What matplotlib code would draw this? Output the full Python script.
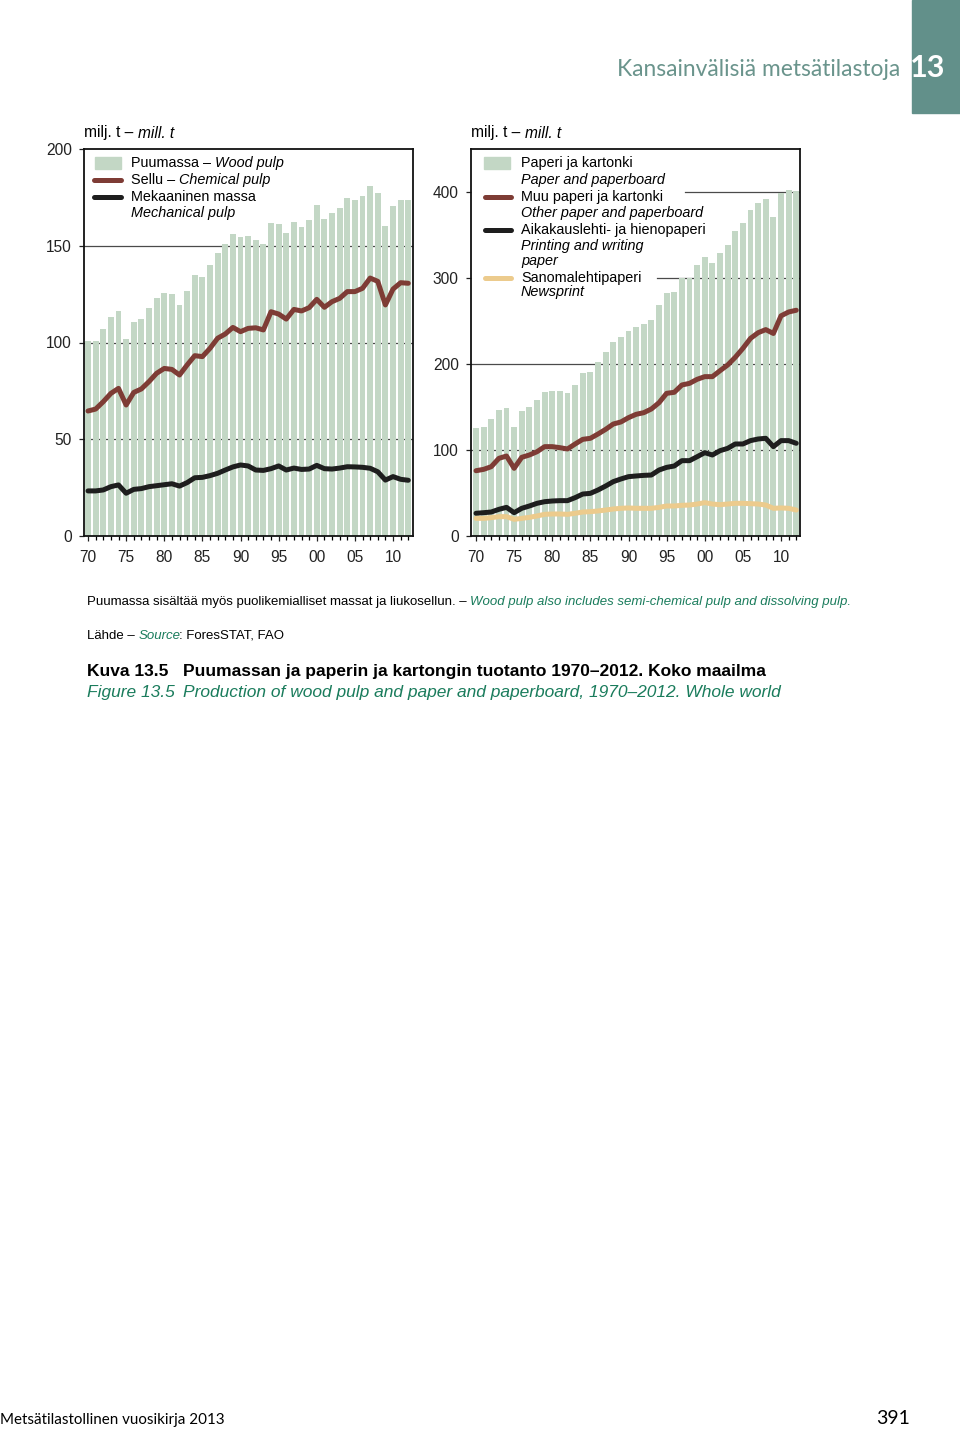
import numpy as np
import matplotlib.pyplot as plt
from matplotlib.patches import Rectangle
from matplotlib.lines import Line2D

# vuodet 1970-2012
years = np.arange(1970, 2013)
xtick_years = list(range(1970, 2011, 5))
xtick_labels = ['70', '75', '80', '85', '90', '95', '00', '05', '10']

# vasen: puumassa (pylvaat), sellu ja mekaaninen massa, milj. t
wood_pulp = [101.0, 101.0, 107.0, 113.0, 116.3, 101.6, 110.8, 112.1, 117.7, 122.8,
             125.4, 125.1, 119.4, 126.6, 134.9, 134.0, 139.9, 146.4, 151.1, 155.9,
             154.7, 155.0, 152.8, 150.7, 161.6, 161.4, 156.4, 162.4, 159.7, 163.3,
             170.9, 164.0, 167.1, 169.7, 174.5, 173.6, 175.5, 180.9, 177.3, 160.2,
             170.5, 173.6, 173.6]
chemical_pulp = [64.6, 65.6, 69.4, 73.7, 76.3, 67.7, 74.2, 76.0, 79.8, 84.1,
                 86.6, 86.1, 83.2, 88.4, 93.2, 92.7, 97.0, 102.2, 104.4, 107.8,
                 105.6, 107.3, 107.6, 106.5, 115.9, 114.7, 112.1, 117.1, 116.3, 118.0,
                 122.3, 118.2, 121.1, 122.8, 126.3, 126.3, 128.0, 133.3, 131.6, 119.4,
                 127.6, 130.9, 130.6]
mechanical_pulp = [23.3, 23.3, 23.8, 25.5, 26.4, 22.1, 24.1, 24.5, 25.5, 26.0,
                   26.5, 27.0, 25.8, 27.6, 30.1, 30.3, 31.2, 32.4, 34.1, 35.7,
                   36.7, 36.2, 34.1, 33.9, 34.8, 36.2, 34.1, 35.1, 34.4, 34.6,
                   36.5, 34.8, 34.6, 35.1, 35.8, 35.7, 35.5, 35.0, 33.2, 28.9,
                   30.7, 29.3, 28.8]

# oikea: paperi ja kartonki (pylvaat) ja lajit, milj. t
paper_board = [125.2, 127.1, 136.0, 146.5, 148.5, 126.4, 145.3, 149.6, 158.1, 167.1,
               168.6, 168.2, 165.9, 175.6, 189.2, 191.1, 201.9, 213.6, 225.2, 231.8,
               238.8, 243.4, 246.5, 251.2, 268.2, 282.2, 284.1, 299.6, 299.6, 314.7,
               324.0, 317.8, 328.7, 338.4, 355.0, 363.6, 379.1, 387.6, 391.5, 371.3,
               399.2, 402.3, 400.8]
other_paper = [75.9, 77.5, 80.6, 90.3, 93.0, 78.7, 91.5, 94.2, 98.0, 103.9,
               103.9, 102.7, 101.2, 107.0, 112.4, 113.6, 118.6, 124.0, 130.2, 132.6,
               137.6, 141.5, 143.4, 147.7, 155.0, 165.9, 167.1, 175.6, 177.5, 182.2,
               185.3, 185.3, 192.2, 198.8, 207.8, 218.2, 229.8, 236.4, 240.0, 235.5,
               256.0, 260.5, 262.5]
printing_writing = [26.4, 27.1, 27.9, 31.0, 33.3, 27.1, 32.2, 34.9, 38.0, 39.9,
                    40.7, 41.1, 41.1, 44.6, 48.8, 49.6, 53.5, 58.1, 63.2, 66.3,
                    69.0, 69.8, 70.5, 70.9, 76.7, 79.8, 81.4, 87.6, 87.6, 92.2,
                    96.9, 94.2, 99.2, 101.9, 107.0, 107.0, 110.9, 112.8, 113.6, 103.9,
                    110.9, 110.9, 107.8]
newsprint = [20.5, 20.5, 21.3, 22.5, 22.5, 19.4, 20.5, 21.7, 23.3, 25.2,
             25.6, 25.6, 25.2, 26.4, 27.9, 28.3, 29.1, 30.2, 31.4, 32.2,
             32.6, 32.2, 32.2, 32.2, 33.3, 34.9, 34.9, 35.7, 36.0, 37.2,
             38.8, 37.2, 36.4, 37.2, 38.0, 38.0, 37.6, 37.2, 36.0, 32.2,
             32.6, 32.2, 30.2]

BAR = '#c3d7c5'
BROWN = '#7e3c35'
BLACK = '#1e1e1e'
TAN = '#eccb8d'
GREEN = '#1a7c5c'
TEAL = '#62908a'

plt.rcParams['font.family'] = ['Liberation Sans', 'DejaVu Sans']

W, H = 960, 1433
fig = plt.figure(figsize=(W / 100, H / 100), dpi=100)


def fx(x):
    return x / W


def fy(y):
    return 1 - y / H


ax1 = fig.add_axes([fx(84), fy(536), fx(329), 387 / H])
ax2 = fig.add_axes([fx(471), fy(536), fx(329), 387 / H])

line_kw = dict(lw=3.6, solid_joinstyle='round', solid_capstyle='round', zorder=3)

ax1.bar(years, wood_pulp, width=0.76, color=BAR, zorder=1)
ax1.plot(years, chemical_pulp, color=BROWN, **line_kw)
ax1.plot(years, mechanical_pulp, color=BLACK, **line_kw)

ax2.bar(years, paper_board, width=0.76, color=BAR, zorder=1)
ax2.plot(years, other_paper, color=BROWN, **line_kw)
ax2.plot(years, printing_writing, color=BLACK, **line_kw)
ax2.plot(years, newsprint, color=TAN, **line_kw)


def style(ax, ymax, ystep, xlim, grid):
    ax.set_xlim(*xlim)
    ax.set_ylim(0, ymax)
    ax.set_yticks(np.arange(0, ymax + 1, ystep))
    ax.set_xticks(xtick_years)
    ax.set_xticklabels(xtick_labels)
    ax.set_xticks(years, minor=True)
    ax.tick_params(axis='both', direction='out', length=3.8, width=0.9,
                   labelsize=11.2, pad=5, colors='#222222')
    ax.tick_params(axis='x', which='minor', direction='out', length=3, width=0.9)
    ax.tick_params(axis='x', pad=6)
    for s in ax.spines.values():
        s.set_linewidth(1.3)
        s.set_color('#111111')
    for v, start in grid:
        ax.axhline(v, xmin=start, color='#4a4a4a', lw=0.9, zorder=0.5)


style(ax1, 200, 50, (1969.475, 2012.62), [(50, 0), (100, 0), (150, 0)])
style(ax2, 450, 100, (1969.344, 2012.49),
      [(100, 0), (200, 0), (300, (657 - 471) / 329), (400, (685 - 471) / 329)])


def rich(x, y, parts, size, va='center', **kw):
    s0, k0 = parts[0]
    t = fig.text(fx(x), fy(y), s0, fontsize=size, va=va, ha='left', **k0, **kw)
    prev_italic = k0.get('style') == 'italic'
    for s, k in parts[1:]:
        shift = -1.2 if prev_italic else 0
        t = ax1.annotate(s, xy=(1, 0), xycoords=t, xytext=(shift, 0),
                         textcoords='offset points', va='bottom', ha='left',
                         fontsize=size, annotation_clip=False, **k, **kw)
        prev_italic = k.get('style') == 'italic'
    return t


R = {}
I = {'style': 'italic'}
IG = {'style': 'italic', 'color': GREEN}

# yksikot
rich(84, 133, [('milj. t – ', R), ('mill. t', I)], 11.2)
rich(471, 133, [('milj. t – ', R), ('mill. t', I)], 11.2)


# selitteet
def patch_handle(x0, x1, y):
    fig.add_artist(Rectangle((fx(x0), fy(y + 6)), fx(x1 - x0), 12 / H,
                             transform=fig.transFigure, color=BAR))


def line_handle(x0, x1, y, c):
    fig.add_artist(Line2D([fx(x0), fx(x1)], [fy(y), fy(y)], transform=fig.transFigure,
                          color=c, lw=3.6, solid_capstyle='round'))


LS = 10.4
patch_handle(95, 121, 163)
line_handle(94, 121, 180, BROWN)
line_handle(94, 121, 197, BLACK)
rich(131, 163, [('Puumassa – ', R), ('Wood pulp', I)], LS)
rich(131, 180, [('Sellu – ', R), ('Chemical pulp', I)], LS)
rich(131, 197, [('Mekaaninen massa', R)], LS)
rich(131, 213, [('Mechanical pulp', I)], LS)

patch_handle(484, 510, 163)
line_handle(485, 511, 197, BROWN)
line_handle(485, 511, 230, BLACK)
line_handle(485, 511, 278, TAN)
rich(521, 163, [('Paperi ja kartonki', R)], LS)
rich(521, 180, [('Paper and paperboard', I)], LS)
rich(521, 197, [('Muu paperi ja kartonki', R)], LS)
rich(521, 213, [('Other paper and paperboard', I)], LS)
rich(521, 230, [('Aikakauslehti- ja hienopaperi', R)], LS)
rich(521, 246, [('Printing and writing', I)], LS)
rich(521, 261, [('paper', I)], LS)
rich(521, 278, [('Sanomalehtipaperi', R)], LS)
rich(521, 292, [('Newsprint', I)], LS)

# alaviitteet ja kuvan otsikko
rich(87, 602, [('Puumassa sisältää myös puolikemialliset massat ja liukosellun. – ', R),
               ('Wood pulp also includes semi-chemical pulp and dissolving pulp.', IG)], 9.5)
rich(87, 636, [('Lähde – ', R), ('Source', IG), (': ForesSTAT, FAO', R)], 9.5)
fig.text(fx(87), fy(672), 'Kuva 13.5', fontsize=12.5, weight='bold', va='center')
fig.text(fx(183), fy(672), 'Puumassan ja paperin ja kartongin tuotanto 1970–2012. Koko maailma',
         fontsize=12.5, weight='bold', va='center')
fig.text(fx(87), fy(693), 'Figure 13.5', fontsize=12.5, style='italic', color=GREEN, va='center')
fig.text(fx(183), fy(693), 'Production of wood pulp and paper and paperboard, 1970–2012. Whole world',
         fontsize=12.5, style='italic', color=GREEN, va='center')

# sivun yla- ja alatunniste
fig.add_artist(Rectangle((fx(912), fy(113)), fx(48), 113 / H,
                         transform=fig.transFigure, color=TEAL))
fig.text(fx(928), fy(68), '13', fontsize=22, weight='bold', color='white',
         ha='center', va='center', family=['Lato', 'DejaVu Sans'])
fig.text(fx(900), fy(69), 'Kansainvälisiä metsätilastoja', fontsize=16.4, color='#6a948c',
         ha='right', va='center', family=['Lato', 'DejaVu Sans'])
fig.text(fx(0), fy(1420), 'Metsätilastollinen vuosikirja 2013', fontsize=10.9,
         ha='left', va='center', family=['Lato', 'DejaVu Sans'])
fig.text(fx(910), fy(1419), '391', fontsize=14, ha='right', va='center',
         family=['Lato', 'DejaVu Sans'])

fig.savefig('out.png', dpi=100)
